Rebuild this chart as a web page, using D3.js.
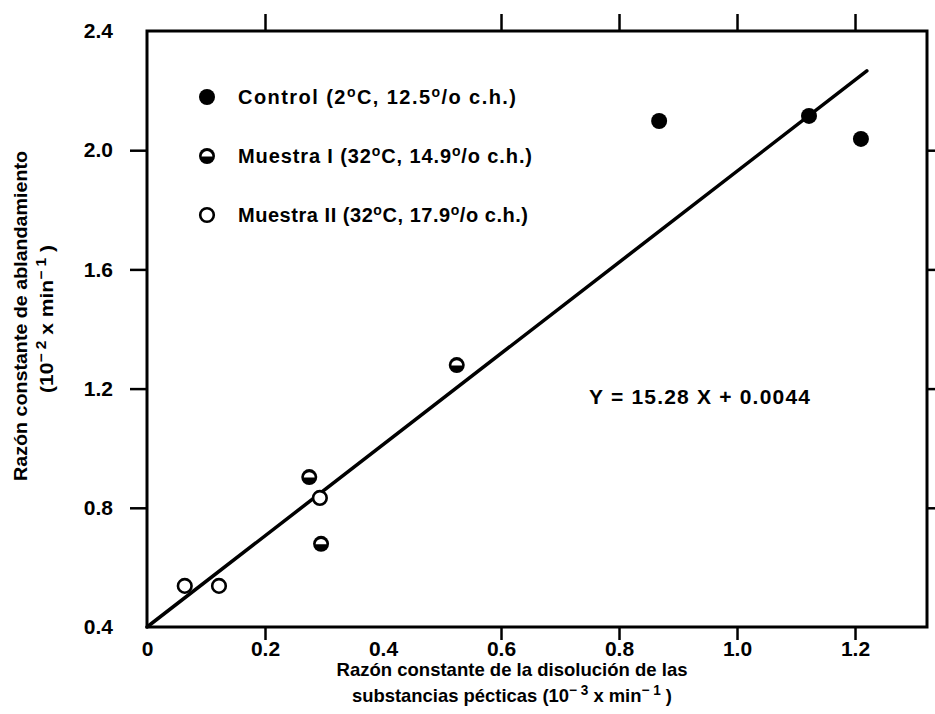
<!DOCTYPE html>
<html>
<head>
<meta charset="utf-8">
<script src="https://cdn.jsdelivr.net/npm/d3@7/dist/d3.min.js"></script>
<style>
  html, body { margin: 0; padding: 0; background: #fff; }
  svg { display: block; }
  text { fill: #000; font-family: "Liberation Sans", Arial, sans-serif; font-weight: bold; }
</style>
</head>
<body>
<script>
// ---- data ----
const xTicks = [0, 0.2, 0.4, 0.6, 0.8, 1.0, 1.2];
const yTicks = [0.4, 0.8, 1.2, 1.6, 2.0, 2.4];

const controlX = [0.868, 1.122, 1.21];
const controlY = [2.098, 2.115, 2.038];

const muestra1X = [0.525, 0.275, 0.295];
const muestra1Y = [1.279, 0.903, 0.679];

const muestra2X = [0.293, 0.064, 0.122];
const muestra2Y = [0.833, 0.538, 0.538];

const fitX = [0, 1.22];
const fitY = [0.4, 2.266];

const legendLabels = [
  ["Control (2", "o", "C, 12.5", "o", "/o c.h.)"],
  ["Muestra I (32", "o", "C, 14.9", "o", "/o c.h.)"],
  ["Muestra II (32", "o", "C, 17.9", "o", "/o c.h.)"]
];
const legendTypes = ["full", "half", "open"];
const equationText = "Y = 15.28 X + 0.0044";

// ---- layout ----
const W = 935, H = 714;
const svg = d3.select("body").append("svg").attr("width", W).attr("height", H);

const x = d3.scaleLinear().domain([0, 1.322]).range([147, 927]);
const y = d3.scaleLinear().domain([0.4, 2.4]).range([627, 31]);

const R = 8;

// frame
svg.append("rect")
  .attr("x", x(0)).attr("y", y(2.4))
  .attr("width", x(1.322) - x(0)).attr("height", y(0.4) - y(2.4))
  .attr("fill", "none").attr("stroke", "#000").attr("stroke-width", 3);

const fmtX = d => d === 0 ? "0" : d3.format(".1f")(d);
const fmtY = d3.format(".1f");
const inner = d => !(Math.abs(d - 0.4) < 1e-9 || Math.abs(d - 2.4) < 1e-9 || d === 0);

function styleAxis(g) {
  g.attr("font-size", 21).attr("font-family", '"Liberation Sans", Arial, sans-serif');
  g.select(".domain").remove();
  g.selectAll(".tick line").attr("stroke", "#000").attr("stroke-width", 2.5)
    .filter(d => !inner(d)).remove();
  g.selectAll(".tick text").attr("fill", "#000")
    .style("font-weight", "bold").style("font-size", "21px");
}

// bottom axis
svg.append("g").attr("transform", `translate(0,${y(0.4)})`)
  .call(d3.axisBottom(x).tickValues(xTicks).tickFormat(fmtX).tickSize(13).tickSizeOuter(0).tickPadding(1))
  .call(styleAxis);
// top axis
svg.append("g").attr("transform", `translate(0,${y(2.4)})`)
  .call(d3.axisTop(x).tickValues(xTicks).tickFormat("").tickSize(17).tickSizeOuter(0))
  .call(styleAxis);
// left axis
svg.append("g").attr("transform", `translate(${x(0)},0)`)
  .call(d3.axisLeft(y).tickValues(yTicks).tickFormat(fmtY).tickSize(17).tickSizeOuter(0).tickPadding(17))
  .call(g => {
    styleAxis(g);
    g.selectAll(".tick text").attr("x", -34);
  });
// right axis
svg.append("g").attr("transform", `translate(${x(1.322)},0)`)
  .call(d3.axisRight(y).tickValues(yTicks).tickFormat("").tickSize(12).tickSizeOuter(0))
  .call(styleAxis);

// regression line
svg.append("line")
  .attr("x1", x(fitX[0])).attr("y1", y(fitY[0]))
  .attr("x2", x(fitX[1])).attr("y2", y(fitY[1]))
  .attr("stroke", "#000").attr("stroke-width", 3.5).attr("stroke-linecap", "round");

// markers
function drawMarker(g, cx, cy, type) {
  if (type === "full") {
    g.append("circle").attr("cx", cx).attr("cy", cy).attr("r", R).attr("fill", "#000");
  } else if (type === "half") {
    g.append("circle").attr("cx", cx).attr("cy", cy).attr("r", R).attr("fill", "#000");
    const r2 = R - 2.6;
    g.append("path")
      .attr("d", `M${cx - r2},${cy + 0.5} A${r2},${r2} 0 0 1 ${cx + r2},${cy + 0.5} Z`)
      .attr("fill", "#fff");
  } else {
    g.append("circle").attr("cx", cx).attr("cy", cy).attr("r", R - 1.2)
      .attr("fill", "#fff").attr("stroke", "#000").attr("stroke-width", 2.6);
  }
}
const pts = svg.append("g");
controlX.forEach((v, i) => drawMarker(pts, x(v), y(controlY[i]), "full"));
muestra1X.forEach((v, i) => drawMarker(pts, x(v), y(muestra1Y[i]), "half"));
muestra2X.forEach((v, i) => drawMarker(pts, x(v), y(muestra2Y[i]), "open"));

// legend
const legY = [97, 156, 215];
const legWidths = [278, 294, 290];
legendLabels.forEach((parts, i) => {
  drawMarker(svg, 207, legY[i], legendTypes[i]);
  const t = svg.append("text").attr("x", 238).attr("y", legY[i] + 7)
    .style("font-size", "20px");
  parts.forEach((p, j) => {
    const sup = (j % 2 === 1);
    t.append("tspan")
      .attr("dy", sup ? -7 : (j > 0 ? 7 : 0))
      .style("font-size", sup ? "14px" : "20px")
      .text(p);
  });
  t.attr("textLength", legWidths[i]).attr("lengthAdjust", "spacing");
});

// equation
svg.append("text").attr("x", 589).attr("y", 404)
  .style("font-size", "21px")
  .attr("textLength", 221).attr("lengthAdjust", "spacing")
  .text(equationText);

// x axis title
const xt = svg.append("g").attr("transform", "translate(512,0)");
xt.append("text").attr("x", 0).attr("y", 676).attr("text-anchor", "middle")
  .style("font-size", "19px")
  .attr("textLength", 351).attr("lengthAdjust", "spacingAndGlyphs")
  .text("Razón constante de la disolución de las");
const xt2 = xt.append("text").attr("x", 0).attr("y", 702).attr("text-anchor", "middle")
  .style("font-size", "19px");
xt2.append("tspan").text("substancias pécticas (10");
xt2.append("tspan").attr("dy", -7).style("font-size", "14px").text("− 3");
xt2.append("tspan").attr("dy", 7).text(" x min");
xt2.append("tspan").attr("dy", -7).style("font-size", "14px").text("− 1");
xt2.append("tspan").attr("dy", 7).text(" )");
xt2.attr("textLength", 320).attr("lengthAdjust", "spacingAndGlyphs");

// y axis title
const yt = svg.append("g").attr("transform", "translate(0,316) rotate(-90)");
yt.append("text").attr("x", 0).attr("y", 27).attr("text-anchor", "middle")
  .style("font-size", "19px")
  .attr("textLength", 330).attr("lengthAdjust", "spacingAndGlyphs")
  .text("Razón constante de ablandamiento");
const yt2 = yt.append("text").attr("x", -3).attr("y", 53).attr("text-anchor", "middle")
  .style("font-size", "19px");
yt2.append("tspan").text("(10");
yt2.append("tspan").attr("dy", -7).style("font-size", "14px").text("− 2");
yt2.append("tspan").attr("dy", 7).text(" x min");
yt2.append("tspan").attr("dy", -7).style("font-size", "14px").text("− 1");
yt2.append("tspan").attr("dy", 7).text(" )");
yt2.attr("textLength", 148).attr("lengthAdjust", "spacingAndGlyphs");
</script>
</body>
</html>
